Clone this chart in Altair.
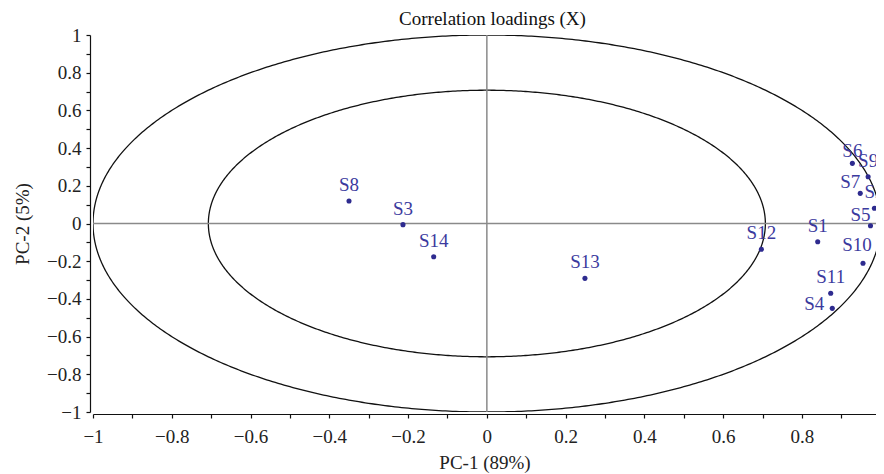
import numpy as np
import pandas as pd
import altair as alt

# ---- data ----
names = ["S1", "S2", "S3", "S4", "S5", "S6", "S7", "S8", "S9", "S10", "S11", "S12", "S13", "S14"]
pc1 = [0.840, 0.984, -0.213, 0.877, 0.974, 0.928, 0.948, -0.350, 0.968, 0.955, 0.873, 0.697, 0.249, -0.135]
pc2 = [-0.097, 0.081, -0.006, -0.450, -0.012, 0.319, 0.160, 0.119, 0.248, -0.211, -0.370, -0.137, -0.291, -0.176]

ring_radii = [1.0, float(np.sqrt(0.5))]
x_ticks = [round(-1 + 0.1 * i, 1) for i in range(20)]
y_ticks = [round(-1 + 0.1 * i, 1) for i in range(21)]

pts = pd.DataFrame({"name": names, "x": pc1, "y": pc2})

theta = np.linspace(0, 2 * np.pi, 721)
rings = pd.concat([
    pd.DataFrame({"x": r * np.cos(theta), "y": r * np.sin(theta), "idx": np.arange(len(theta)), "ring": i})
    for i, r in enumerate(ring_radii)
])
zero = pd.DataFrame({"x": [-1.0, 0.0], "x2": [1.0, 0.0], "y": [0.0, -1.0], "y2": [0.0, 1.0]})

SERIF = "Liberation Serif"
label_expr = "abs(round(datum.value*10)) % 2 == 1 ? '' : format(datum.value, '~g')"

xaxis = alt.Axis(values=x_ticks, labelExpr=label_expr, title="PC-1 (89%)", grid=False,
                 offset=2, tickSize=4, labelPadding=9, titlePadding=7,
                 labelFlush=False, labelOverlap=False)
yaxis = alt.Axis(values=y_ticks, labelExpr=label_expr, title="PC-2 (5%)", grid=False,
                 offset=3, tickSize=4, labelPadding=5, titlePadding=14,
                 labelFlush=False, labelOverlap=False)
xs = alt.Scale(domain=[-1, 0.988], nice=False, zero=False)
ys = alt.Scale(domain=[-1, 1], nice=False, zero=False)
X = alt.X("x:Q", scale=xs, axis=xaxis)
Y = alt.Y("y:Q", scale=ys, axis=yaxis)

ring_layer = alt.Chart(rings).mark_line(color="#111111", strokeWidth=1.3, clip=True).encode(
    x=X, y=Y, detail="ring:N", order="idx:Q")

zero_layer = alt.Chart(zero).mark_rule(color="#8a8a8a", strokeWidth=1.5, clip=True).encode(
    x=X, x2="x2:Q", y=Y, y2="y2:Q")

point_layer = alt.Chart(pts).mark_circle(size=26, color="#2e2b8f", opacity=1).encode(x=X, y=Y)

LABEL_COLOR = "#3b3a9e"


def labels(sel, align="center", dx=0, dy=-10):
    return alt.Chart(pts).transform_filter(
        alt.FieldOneOfPredicate(field="name", oneOf=sel)
    ).mark_text(font=SERIF, fontSize=19, color=LABEL_COLOR, align=align, baseline="alphabetic",
                dx=dx, dy=dy, clip=True).encode(x=X, y=Y, text="name:N")


lab_main = labels(["S1", "S2", "S3", "S8", "S9", "S11", "S12", "S13", "S14"], dy=-10)
lab_s10 = labels(["S10"], dx=-6, dy=-12)
lab_s6 = labels(["S6"], dx=0, dy=-6)
lab_left = labels(["S5", "S7"], dx=-10, dy=-5)
lab_s4 = labels(["S4"], align="right", dx=-8, dy=2)

chart = alt.layer(
    ring_layer, zero_layer, point_layer, lab_main, lab_s10, lab_s6, lab_left, lab_s4
).properties(
    width=783, height=377,
    autosize=alt.AutoSizeParams(type="none"),
    padding={"left": 85, "top": 27, "right": 0, "bottom": 62},
    title=alt.TitleParams("Correlation loadings (X)", font=SERIF, fontSize=19,
                          fontWeight="normal", color="#111111", anchor="middle", offset=-3, dx=8),
).configure_view(stroke=None).configure_axis(
    domainColor="#111111", tickColor="#111111", labelColor="#222222", titleColor="#222222",
    labelFont=SERIF, titleFont=SERIF, labelFontSize=19, titleFontSize=19,
    titleFontWeight="normal", domainWidth=1.2, tickWidth=1.2
)

chart.save("out.html", embed_options={"renderer": "svg", "actions": False})
